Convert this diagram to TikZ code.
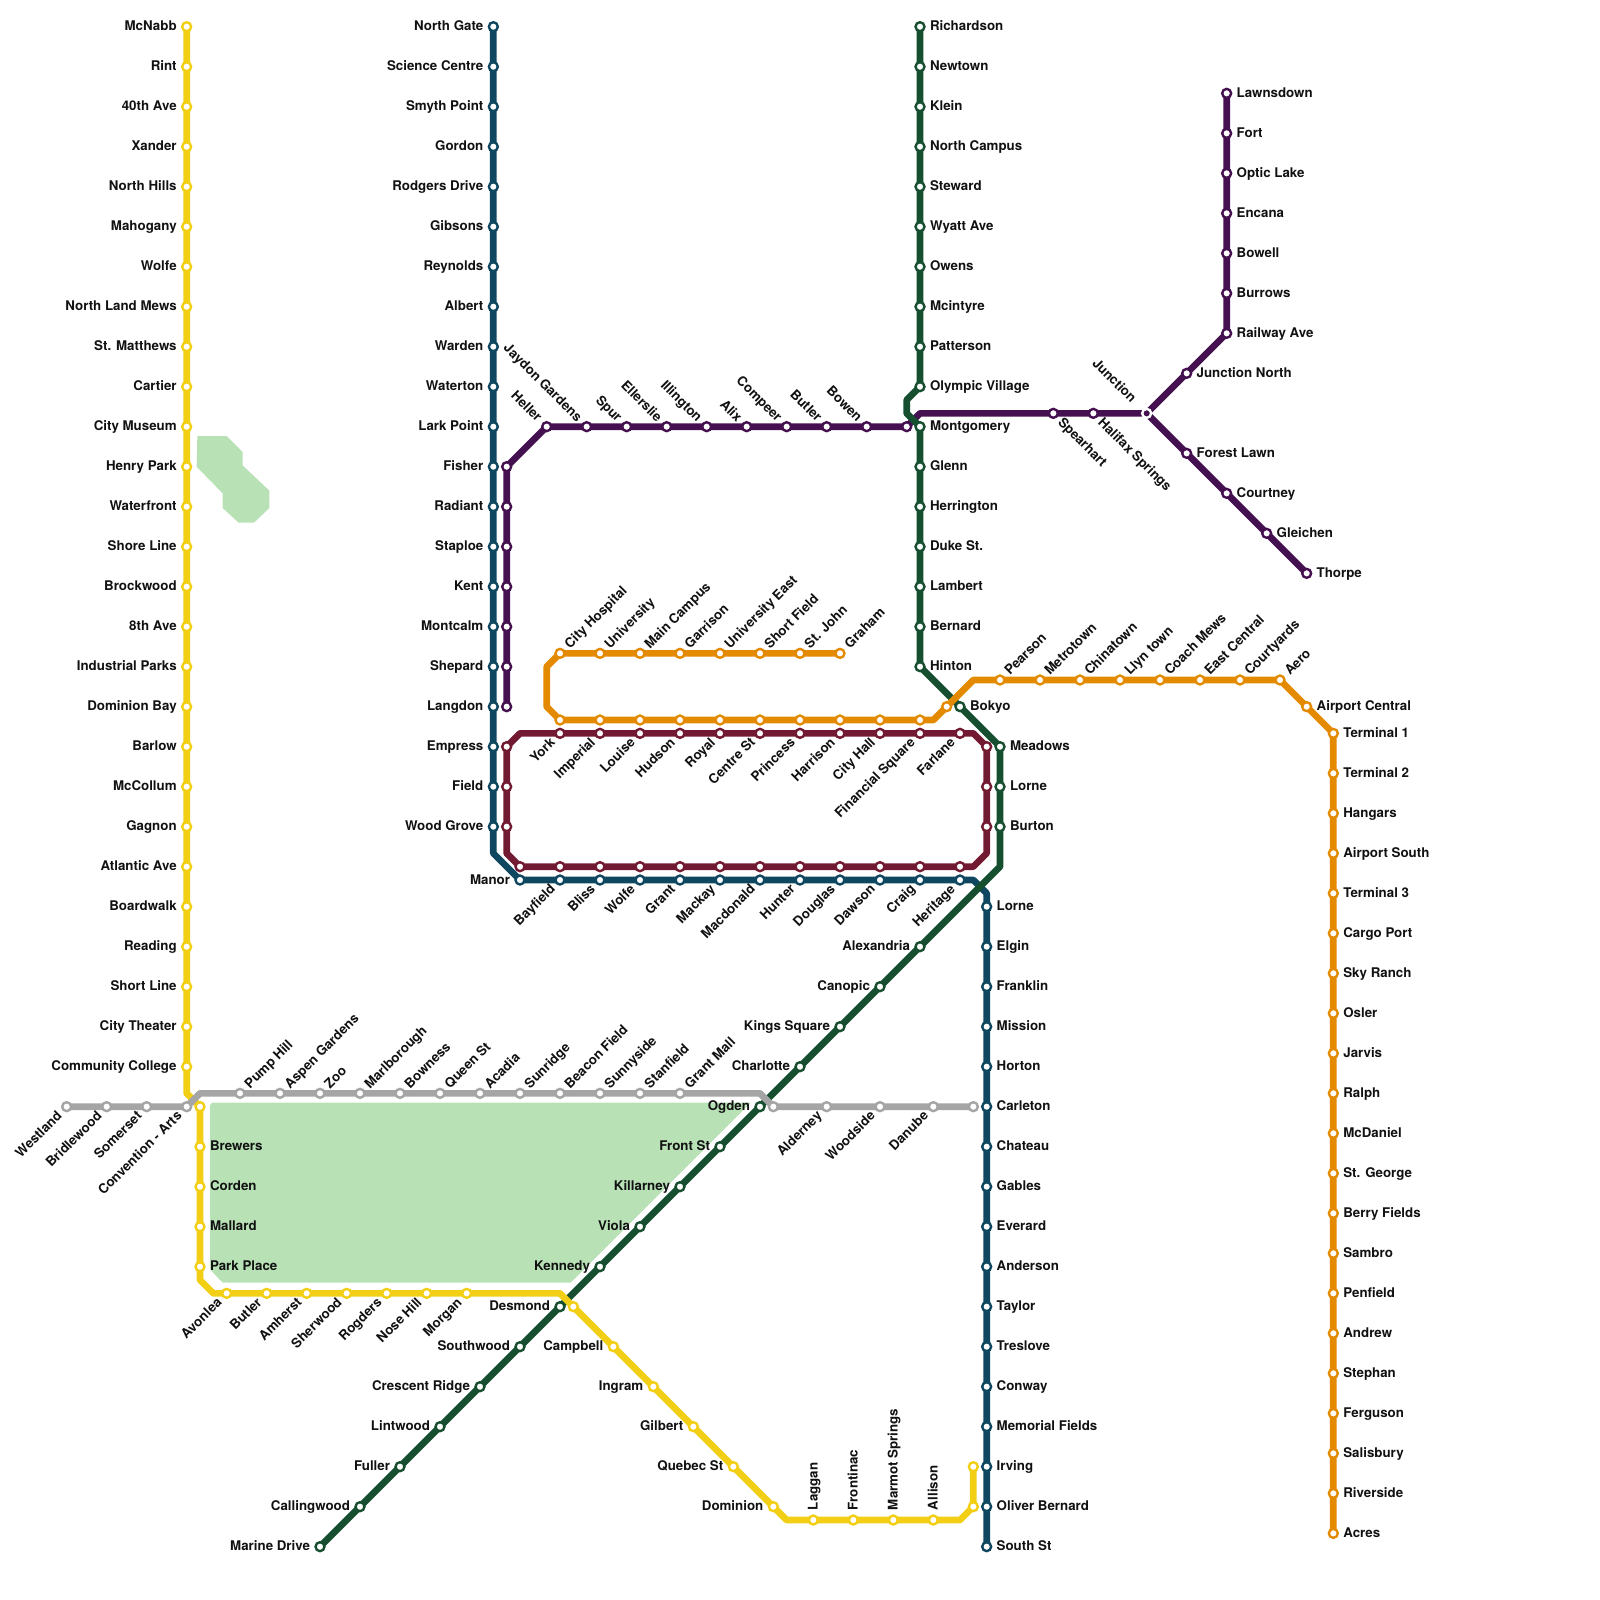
\documentclass[tikz,border=0pt]{standalone}
\usepackage{fontspec}
\setmainfont{TeX Gyre Heros}
\pgfdeclarelayer{parks}
\pgfdeclarelayer{lines}
\pgfsetlayers{parks,lines,main}
\definecolor{cyellow}{HTML}{F2CF14}
\definecolor{cblue}{HTML}{0F4660}
\definecolor{cgreen}{HTML}{154F30}
\definecolor{corange}{HTML}{E38A00}
\definecolor{ccrimson}{HTML}{731A33}
\definecolor{cpurple}{HTML}{44104F}
\definecolor{cgray}{HTML}{A5A5A5}
\definecolor{cpark}{HTML}{B8E2B6}
\definecolor{ctext}{HTML}{111111}
\tikzset{
  stn/.style={circle,fill=white,line width=0.68pt,minimum size=2.55pt,inner sep=0pt},
  hub/.style={circle,fill=cpurple,draw=white,line width=0.68pt,minimum size=2.55pt,inner sep=0pt},
  route/.style={line width=1.9pt,line join=round,line cap=round},
  park/.style={fill=cpark,draw=none},
  lab/.style={font=\bfseries\fontsize{3.79pt}{4.6pt}\selectfont,text=ctext,inner sep=0pt,outer sep=0pt},
  tr/.style={lab,anchor=base west,shift={(2.85pt,-1.2pt)}},
  tl/.style={lab,anchor=base east,shift={(-2.85pt,-1.2pt)}},
  ur/.style={lab,rotate=45,anchor=base west,shift={(2.85pt,-1.2pt)}},
  dl/.style={lab,rotate=45,anchor=base east,shift={(-2.85pt,-1.2pt)}},
  ul/.style={lab,rotate=-45,anchor=base east,shift={(-2.85pt,-1.2pt)}},
  ulfar/.style={lab,rotate=-45,anchor=base east,shift={(-5.2pt,-1.2pt)}},
  dr/.style={lab,rotate=-45,anchor=base west,shift={(2.85pt,-1.2pt)}},
  vt/.style={lab,rotate=90,anchor=base west,shift={(2.85pt,-1.2pt)}},
}
\newcommand\stations[4]{\foreach \px/\py/\lbl [count=\n] in {#4}{%
  \node[stn,draw=#1] (#2\n) at (\px,\py) {};
  \node[#3] (#2\n-t) at (#2\n.center) {\lbl};}}
\newcommand\bare[3]{\foreach \px/\py [count=\n] in {#3}{%
  \node[stn,draw=#1] (#2\n) at (\px,\py) {};}}
\begin{document}
\begin{tikzpicture}[x=0.133333cm,y=-0.133333cm]
\useasboundingbox (0,0) rectangle (120,120);
\begin{pgfonlayer}{parks}
\fill[park] (14.8,32.7) -- (17,32.7) -- (18.2,33.9) -- (18.2,34.9) -- (20.2,36.8) -- (20.2,38.1) -- (19.05,39.2) -- (17.9,39.2) -- (16.7,38.1) -- (16.7,37) -- (14.75,35) -- cycle;
\fill[park] (15.75,82.9) -- (15.9,82.7) -- (56.3,82.7) -- (42.8,96.2) -- (16.7,96.2) -- (15.75,95.2) -- cycle;
\end{pgfonlayer}
% yellow
\stations{cyellow}{ya}{tl}{14/2/McNabb,14/5/Rint,14/8/40th Ave,14/11/Xander,14/14/North Hills,14/17/Mahogany,14/20/Wolfe,14/23/North Land Mews,14/26/St. Matthews,14/29/Cartier,14/32/City Museum,14/35/Henry Park,14/38/Waterfront,14/41/Shore Line,14/44/Brockwood,14/47/8th Ave,14/50/Industrial Parks,14/53/Dominion Bay,14/56/Barlow,14/59/McCollum,14/62/Gagnon,14/65/Atlantic Ave,14/68/Boardwalk,14/71/Reading,14/74/Short Line,14/77/City Theater,14/80/Community College}
\bare{cyellow}{yb}{15/83}
\stations{cyellow}{yc}{tr}{15/86/Brewers,15/89/Corden,15/92/Mallard,15/95/Park Place}
\stations{cyellow}{yd}{dl}{17/97/Avonlea,20/97/Butler,23/97/Amherst,26/97/Sherwood,29/97/Rogders,32/97/Nose Hill,35/97/Morgan}
\bare{cyellow}{ye}{43/98}
\stations{cyellow}{yf}{tl}{46/101/Campbell,49/104/Ingram,52/107/Gilbert,55/110/Quebec St,58/113/Dominion}
\stations{cyellow}{yg}{vt}{61/114/Laggan,64/114/Frontinac,67/114/Marmot Springs,70/114/Allison}
\bare{cyellow}{yh}{73/113,73/110}
\coordinate (y-k1) at (14,82);
\coordinate (y-k2) at (15,96);
\coordinate (y-k3) at (16,97);
\coordinate (y-k4) at (42,97);
\coordinate (y-k5) at (59,114);
\coordinate (y-k6) at (72,114);
% blue
\stations{cblue}{ba}{tl}{37/2/North Gate,37/5/Science Centre,37/8/Smyth Point,37/11/Gordon,37/14/Rodgers Drive,37/17/Gibsons,37/20/Reynolds,37/23/Albert,37/26/Warden,37/29/Waterton,37/32/Lark Point,37/35/Fisher,37/38/Radiant,37/41/Staploe,37/44/Kent,37/47/Montcalm,37/50/Shepard,37/53/Langdon,37/56/Empress,37/59/Field,37/62/Wood Grove,39/66/Manor}
\stations{cblue}{bb}{dl}{42/66/Bayfield,45/66/Bliss,48/66/Wolfe,51/66/Grant,54/66/Mackay,57/66/Macdonald,60/66/Hunter,63/66/Douglas,66/66/Dawson,69/66/Craig,72/66/Heritage}
\stations{cblue}{bc}{tr}{74/68/Lorne,74/71/Elgin,74/74/Franklin,74/77/Mission,74/80/Horton,74/83/Carleton,74/86/Chateau,74/89/Gables,74/92/Everard,74/95/Anderson,74/98/Taylor,74/101/Treslove,74/104/Conway,74/107/Memorial Fields,74/110/Irving,74/113/Oliver Bernard,74/116/South St}
\coordinate (b-k1) at (37,64);
\coordinate (b-k2) at (73,66);
\coordinate (b-k3) at (74,67);
% purple
\bare{cpurple}{pa}{38/53,38/50,38/47,38/44,38/41,38/38,38/35}
\stations{cpurple}{pb}{ul}{41/32/Heller,44/32/Jaydon Gardens,47/32/Spur,50/32/Ellerslie,53/32/Illington,56/32/Alix,59/32/Compeer,62/32/Butler,65/32/Bowen}
\bare{cpurple}{pc}{68/32}
\stations{cpurple}{pd}{dr}{79/31/Spearhart,82/31/Halifax Springs}
\node[hub] (pe1) at (86,31) {};
\node[ulfar] (pe1-t) at (pe1.center) {Junction};
\stations{cpurple}{pf}{tr}{89/28/Junction North,92/25/Railway Ave,92/22/Burrows,92/19/Bowell,92/16/Encana,92/13/Optic Lake,92/10/Fort,92/7/Lawnsdown}
\stations{cpurple}{pg}{tr}{89/34/Forest Lawn,92/37/Courtney,95/40/Gleichen,98/43/Thorpe}
\coordinate (p-k1) at (69,31);
% green
\stations{cgreen}{ga}{tr}{69/2/Richardson,69/5/Newtown,69/8/Klein,69/11/North Campus,69/14/Steward,69/17/Wyatt Ave,69/20/Owens,69/23/Mcintyre,69/26/Patterson,69/29/Olympic Village,69/32/Montgomery,69/35/Glenn,69/38/Herrington,69/41/Duke St.,69/44/Lambert,69/47/Bernard,69/50/Hinton,72/53/Bokyo,75/56/Meadows,75/59/Lorne,75/62/Burton}
\stations{cgreen}{gb}{tl}{69/71/Alexandria,66/74/Canopic,63/77/Kings Square,60/80/Charlotte,57/83/Ogden,54/86/Front St,51/89/Killarney,48/92/Viola,45/95/Kennedy,42/98/Desmond,39/101/Southwood,36/104/Crescent Ridge,33/107/Lintwood,30/110/Fuller,27/113/Callingwood,24/116/Marine Drive}
\coordinate (g-k1) at (68,30);
\coordinate (g-k2) at (68,31);
\coordinate (g-k3) at (75,65);
% orange
\stations{corange}{oa}{ur}{63/49/Graham,60/49/St. John,57/49/Short Field,54/49/University East,51/49/Garrison,48/49/Main Campus,45/49/University,42/49/City Hospital}
\bare{corange}{ob}{42/54,45/54,48/54,51/54,54/54,57/54,60/54,63/54,66/54,69/54,71/53}
\stations{corange}{oc}{ur}{75/51/Pearson,78/51/Metrotown,81/51/Chinatown,84/51/Llyn town,87/51/Coach Mews,90/51/East Central,93/51/Courtyards,96/51/Aero}
\stations{corange}{od}{tr}{98/53/Airport Central,100/55/Terminal 1,100/58/Terminal 2,100/61/Hangars,100/64/Airport South,100/67/Terminal 3,100/70/Cargo Port,100/73/Sky Ranch,100/76/Osler,100/79/Jarvis,100/82/Ralph,100/85/McDaniel,100/88/St. George,100/91/Berry Fields,100/94/Sambro,100/97/Penfield,100/100/Andrew,100/103/Stephan,100/106/Ferguson,100/109/Salisbury,100/112/Riverside,100/115/Acres}
\coordinate (o-k1) at (41,50);
\coordinate (o-k2) at (41,53);
\coordinate (o-k3) at (70,54);
\coordinate (o-k4) at (73,51);
% crimson
\stations{ccrimson}{ca}{dl}{42/55/York,45/55/Imperial,48/55/Louise,51/55/Hudson,54/55/Royal,57/55/Centre St,60/55/Princess,63/55/Harrison,66/55/City Hall,69/55/Financial Square,72/55/Farlane}
\bare{ccrimson}{cb}{74/56,74/59,74/62}
\bare{ccrimson}{cc}{72/65,69/65,66/65,63/65,60/65,57/65,54/65,51/65,48/65,45/65,42/65,39/65}
\bare{ccrimson}{cd}{38/62,38/59,38/56}
\coordinate (c-k1) at (73,55);
\coordinate (c-k2) at (74,64);
\coordinate (c-k3) at (73,65);
\coordinate (c-k4) at (38,64);
\coordinate (c-k5) at (39,55);
% gray
\stations{cgray}{wa}{dl}{5/83/Westland,8/83/Bridlewood,11/83/Somerset,14/83/Convention - Arts}
\stations{cgray}{wb}{ur}{18/82/Pump Hill,21/82/Aspen Gardens,24/82/Zoo,27/82/Marlborough,30/82/Bowness,33/82/Queen St,36/82/Acadia,39/82/Sunridge,42/82/Beacon Field,45/82/Sunnyside,48/82/Stanfield,51/82/Grant Mall}
\bare{cgray}{wc}{58/83}
\stations{cgray}{wd}{dl}{62/83/Alderney,66/83/Woodside,70/83/Danube}
\bare{cgray}{we}{73/83}
\coordinate (w-k1) at (15,82);
\coordinate (w-k2) at (57,82);
\begin{pgfonlayer}{lines}
\draw[route,cpurple] (pa1.center) -- (pa7.center) -- (pb1.center) -- (pc1.center) -- (p-k1) -- (pe1.center) -- (pf1.center) -- (pf2.center) -- (pf8.center);
\draw[route,cpurple] (pe1.center) -- (pg1.center) -- (pg4.center);
\draw[route,cblue] (ba1.center) -- (b-k1) -- (ba22.center) -- (b-k2) -- (b-k3) -- (bc17.center);
\draw[route,cgreen] (ga1.center) -- (ga10.center) -- (g-k1) -- (g-k2) -- (ga11.center) -- (ga17.center) -- (ga19.center) -- (g-k3) -- (gb16.center);
\draw[route,corange] (oa1.center) -- (oa8.center) -- (o-k1) -- (o-k2) -- (ob1.center) -- (o-k3) -- (o-k4) -- (oc8.center) -- (od2.center) -- (od22.center);
\draw[route,ccrimson] (ca1.center) -- (c-k1) -- (cb1.center) -- (c-k2) -- (c-k3) -- (cc12.center) -- (c-k4) -- (cd3.center) -- (c-k5) -- cycle;
\draw[route,cyellow] (ya1.center) -- (y-k1) -- (yb1.center) -- (y-k2) -- (y-k3) -- (y-k4) -- (ye1.center) -- (yf5.center) -- (y-k5) -- (y-k6) -- (yh1.center) -- (yh2.center);
\draw[route,cgray] (wa1.center) -- (wa4.center) -- (w-k1) -- (w-k2) -- (wc1.center) -- (we1.center);
\end{pgfonlayer}
\end{tikzpicture}
\end{document}
